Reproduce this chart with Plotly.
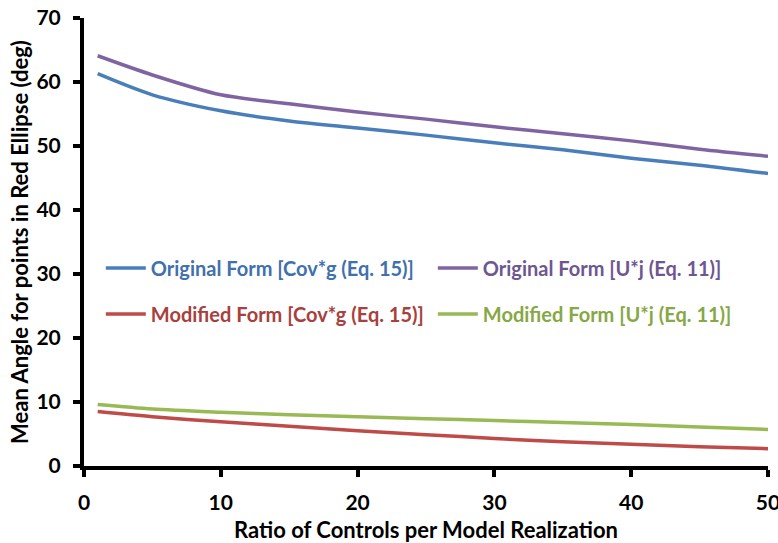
import plotly.graph_objects as go

ratio = [1, 5, 10, 15, 20, 25, 30, 35, 40, 45, 50]
orig_cov = [61.3, 58.0, 55.5, 53.9, 52.8, 51.7, 50.5, 49.4, 48.1, 47.0, 45.7]
orig_u = [64.1, 61.1, 58.0, 56.6, 55.3, 54.2, 53.0, 51.9, 50.8, 49.5, 48.4]
mod_cov = [8.5, 7.7, 6.9, 6.2, 5.5, 4.9, 4.3, 3.8, 3.4, 3.0, 2.7]
mod_u = [9.6, 8.9, 8.4, 8.0, 7.7, 7.4, 7.1, 6.8, 6.5, 6.1, 5.7]

series = [
    ("Original Form [Cov*g (Eq. 15)]", orig_cov, "#4A7EBB", "#4170AE"),
    ("Original Form [U*j (Eq. 11)]", orig_u, "#8064A2", "#6E5791"),
    ("Modified Form [Cov*g (Eq. 15)]", mod_cov, "#BE4B48", "#A8403D"),
    ("Modified Form [U*j (Eq. 11)]", mod_u, "#98B954", "#86A845"),
]
# legend slot (column, row) for each series
legend_slots = [(0, 0), (1, 0), (0, 1), (1, 1)]
legend_ids = ["legend", "legend2", "legend3", "legend4"]

FONT = "Lato"
fig = go.Figure()
for (name, vals, col, tcol), lg in zip(series, legend_ids):
    fig.add_trace(go.Scatter(
        x=ratio, y=vals, mode="lines",
        line=dict(color=col, width=3.5, shape="spline", smoothing=0.8),
        name=f"<span style='color:{tcol}'><b>{name}</b></span>",
        legend=lg, showlegend=True,
    ))

col_x = [0.0246, 0.510]
row_y = [(466 - 268) / 448, (466 - 314) / 448]
legends = {}
for lg, (c, r) in zip(legend_ids, legend_slots):
    legends[lg] = dict(
        orientation="v", bgcolor="rgba(0,0,0,0)",
        font=dict(family=FONT, size=20, color="#000"),
        itemwidth=40, x=col_x[c], y=row_y[r],
        xanchor="left", yanchor="middle", visible=True,
    )

fig.update_layout(
    width=778, height=543,
    margin=dict(l=84, r=10, t=18, b=77),
    paper_bgcolor="white", plot_bgcolor="white",
    font=dict(family=FONT, color="#000"),
    showlegend=True,
    **legends,
    xaxis=dict(
        range=[0, 50], tickvals=[0, 10, 20, 30, 40, 50],
        showgrid=False, zeroline=False, automargin=False,
        showline=True, linecolor="black", linewidth=4,
        ticks="outside", ticklen=7, tickwidth=4, tickcolor="black",
        ticklabeloverflow="allow", ticklabelstandoff=8,
        tickfont=dict(family=FONT, size=21, color="#000", weight="bold"),
        title=dict(text="<b>Ratio of Controls per Model Realization</b>",
                   font=dict(family=FONT, size=22, color="#000"), standoff=10),
    ),
    yaxis=dict(
        range=[0, 70], tickvals=[0, 10, 20, 30, 40, 50, 60, 70],
        showgrid=False, zeroline=False, automargin=False,
        showline=True, linecolor="black", linewidth=4,
        ticks="outside", ticklen=7, tickwidth=4, tickcolor="black",
        ticklabelstandoff=8,
        tickfont=dict(family=FONT, size=21, color="#000", weight="bold"),
        title=dict(text="<b>Mean Angle for points in Red Ellipse (deg)</b>",
                   font=dict(family=FONT, size=22, color="#000"), standoff=3),
    ),
)

fig.write_html("out.html")
